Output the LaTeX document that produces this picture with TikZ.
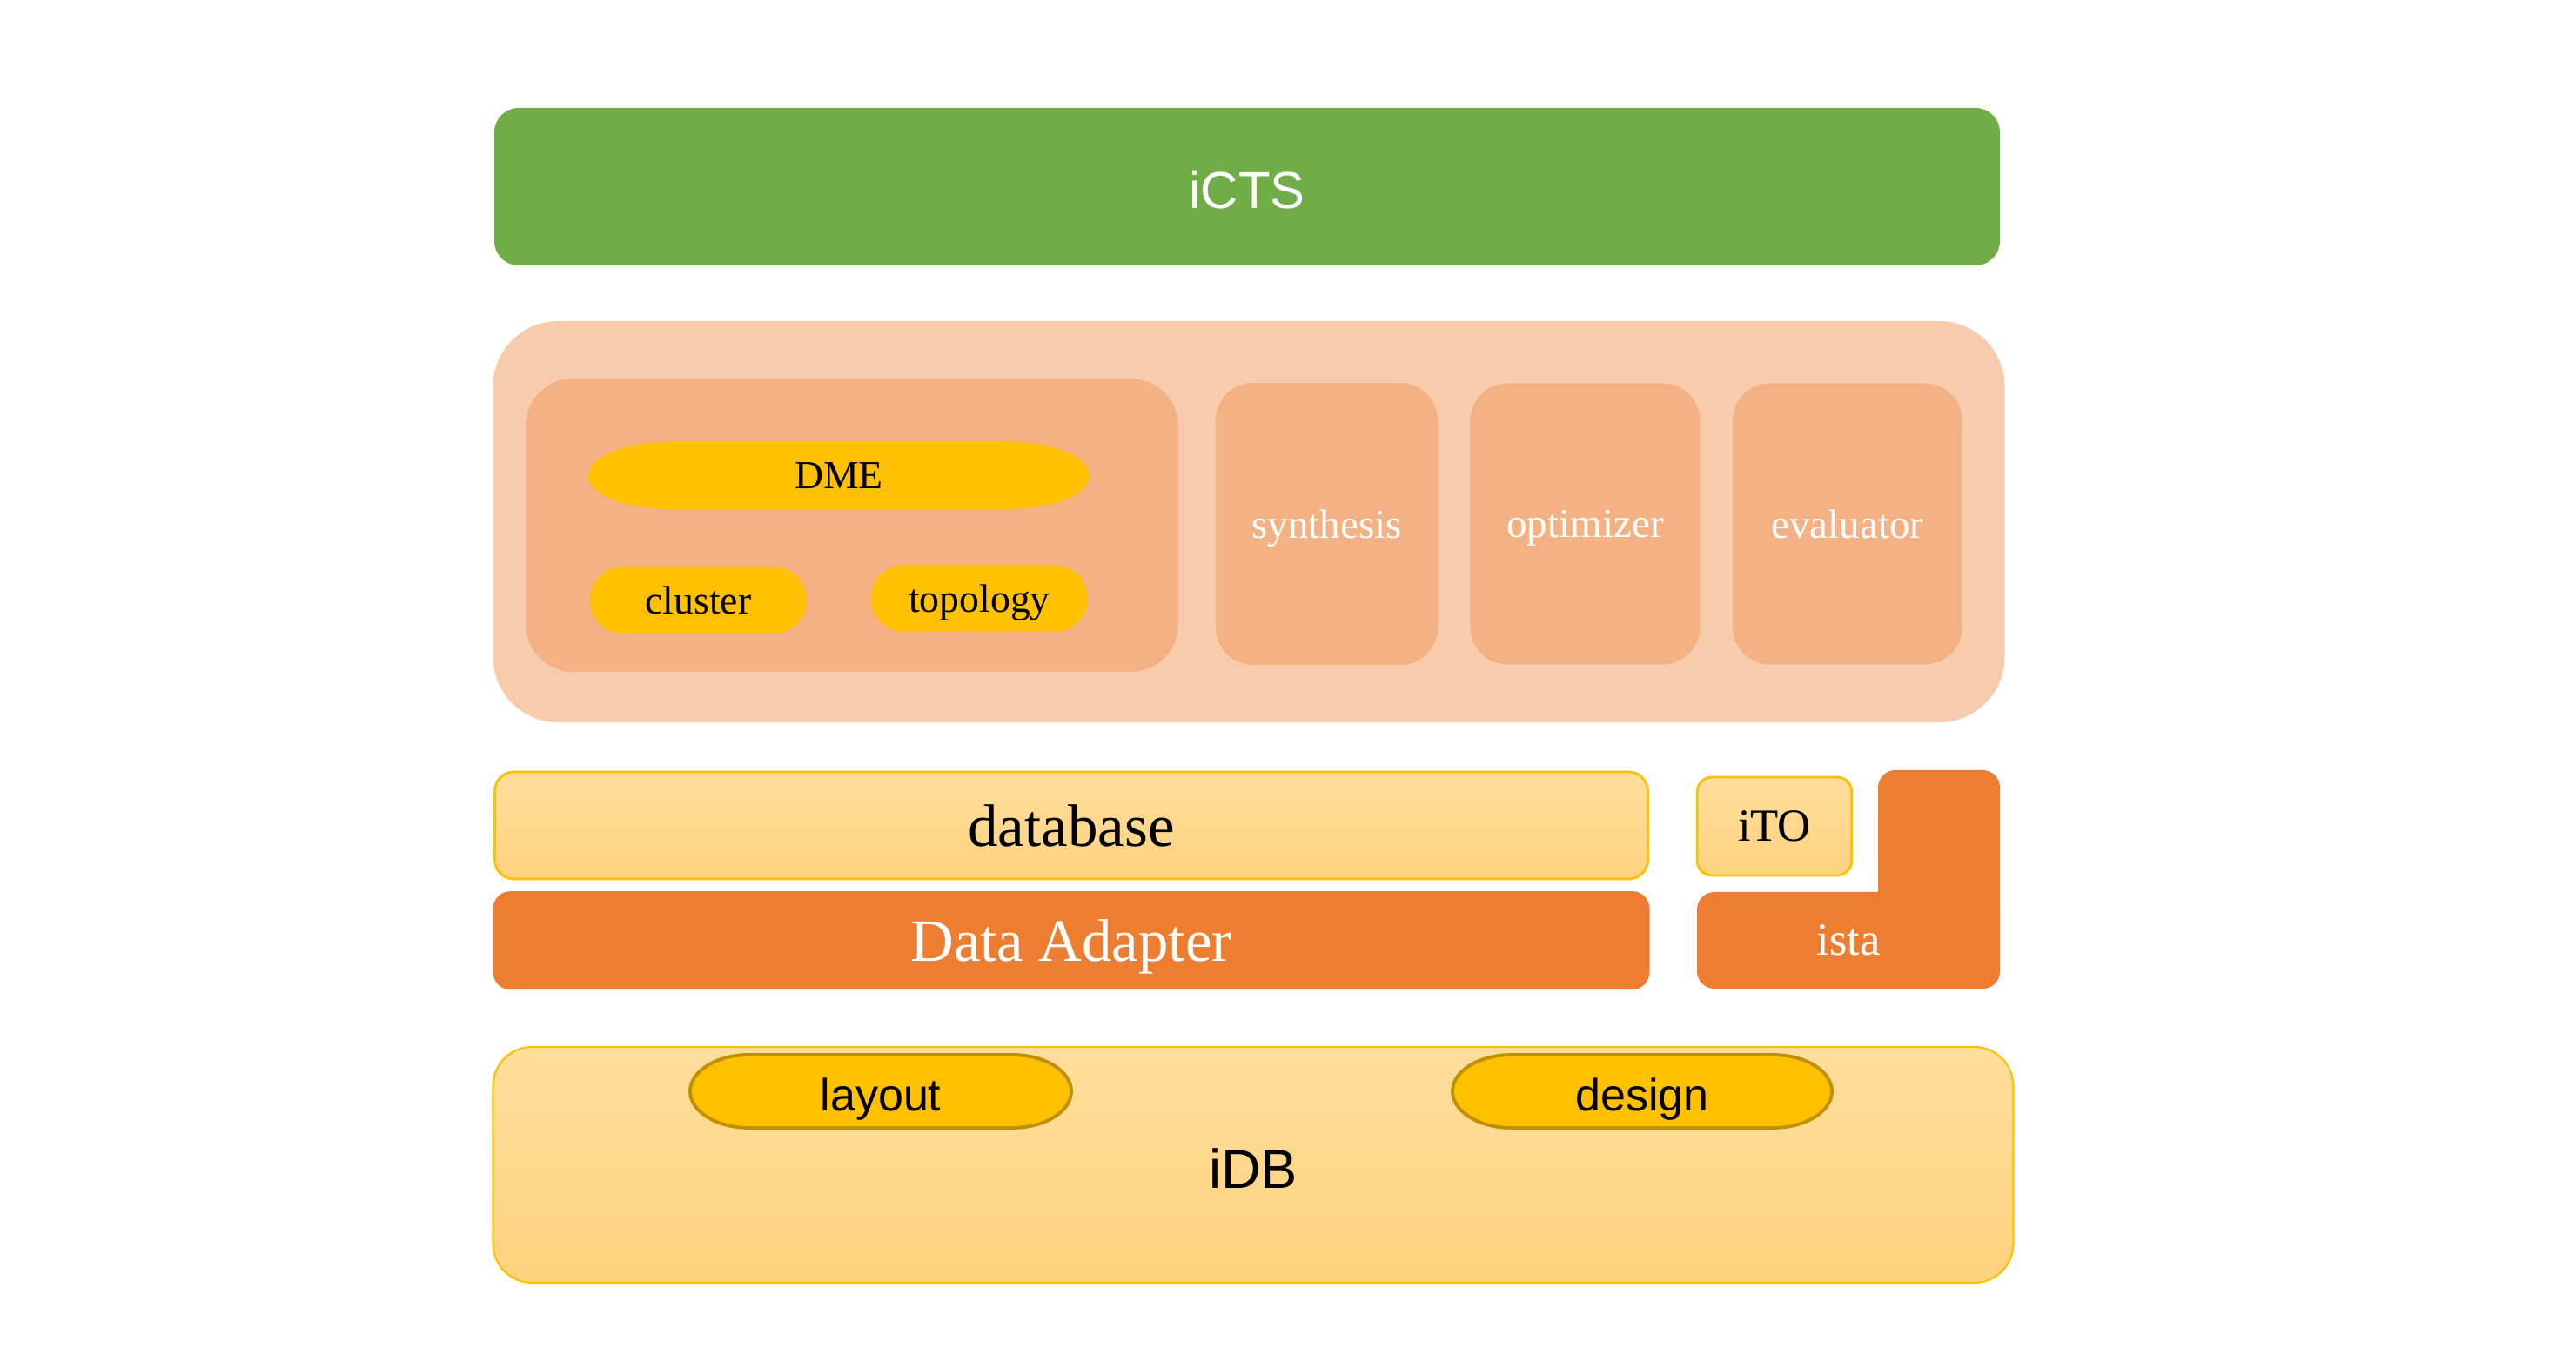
\documentclass[tikz,border=0pt]{standalone}
\usepackage{fontspec}
\setmainfont{Liberation Serif}
\setsansfont{Liberation Sans}
\usetikzlibrary{positioning}
\definecolor{ictsgreen}{HTML}{70AD47}
\definecolor{peach}{HTML}{F8CBAD}
\definecolor{salmon}{HTML}{F4B183}
\definecolor{gold}{HTML}{FFC000}
\definecolor{darkgold}{HTML}{BF9000}
\definecolor{adaptorange}{HTML}{ED7D31}
\definecolor{creamtop}{HTML}{FFDE9C}
\definecolor{creambottom}{HTML}{FED27E}
\tikzstyle{bar} = [rectangle, rounded corners=0.28cm, minimum width=17.30cm, minimum height=1.81cm, fill=ictsgreen, text=white, text depth=0pt, font=\sffamily\fontsize{17}{20}\selectfont]
\tikzstyle{group} = [rectangle, rounded corners=0.75cm, fill=peach]
\tikzstyle{module} = [rectangle, rounded corners=0.43cm, minimum width=2.64cm, minimum height=3.23cm, fill=salmon, text=white, text depth=0pt, font=\fontsize{13.4}{15}\selectfont]
\tikzstyle{algo} = [rectangle, rounded corners=0.385cm, minimum width=2.49cm, minimum height=0.77cm, fill=gold, text depth=0pt, font=\fontsize{13}{15}\selectfont]
\tikzstyle{capsule} = [fill=gold, draw=darkgold, line width=1.1pt]
\tikzstyle{store} = [rectangle, rounded corners=0.22cm, draw=gold, line width=0.8pt, top color=creamtop, bottom color=creambottom, text depth=0pt]
\tikzstyle{adapter} = [rectangle, rounded corners=0.2cm, fill=adaptorange, text=white, text depth=0pt]

\begin{document}
\begin{tikzpicture}

\fill[white] (0,0) rectangle (29.6,15.56);
\useasboundingbox (0,0) rectangle (29.6,15.56);

\node (icts) [bar, text height=0.51cm] at (14.33,13.415) {iCTS};

\node (cts) [group, minimum width=17.37cm, minimum height=4.61cm] at (14.35,9.565) {};
\node (dmebox) [rectangle, rounded corners=0.55cm, fill=salmon, minimum width=7.50cm, minimum height=3.37cm] at (9.79,9.525) {};
\fill[gold] (7.68,10.48) -- (11.60,10.48) arc[start angle=90, end angle=-90, x radius=0.92, y radius=0.385] -- (7.68,9.71) arc[start angle=270, end angle=90, x radius=0.92, y radius=0.385] -- cycle;
\node (dme) [text depth=0pt, font=\fontsize{13}{15}\selectfont] at (9.64,10.095) {DME};
\node (cluster) [algo] at (8.025,8.665) {cluster};
\node (topology) [algo] at (11.255,8.685) {topology};

\node (synthesis) [module, minimum width=2.55cm, minimum height=3.24cm] at (15.245,9.54) {synthesis};
\node (optimizer) [module, right=0.36cm of synthesis] {optimizer};
\node (evaluator) [module, right=0.36cm of optimizer] {evaluator};

\node (database) [store, minimum width=13.25cm, minimum height=1.23cm, font=\fontsize{19.6}{22}\selectfont] at (12.31,6.075) {database};
\node (adapter) [adapter, below=0.12cm of database, minimum width=13.29cm, minimum height=1.13cm, font=\fontsize{19.6}{22}\selectfont] {Data Adapter};

\node (ito) [store, rounded corners=0.17cm, minimum width=1.775cm, minimum height=1.13cm, font=\fontsize{15}{17}\selectfont] at (20.39,6.065) {iTO};
\fill[adaptorange, rounded corners=0.2cm] (21.58,4.20) rectangle (22.98,6.71);
\node (ista) [adapter, minimum width=3.48cm, minimum height=1.11cm, font=\fontsize{15}{17}\selectfont] at (21.24,4.755) {ista};

\node (idb) [store, rounded corners=0.45cm, line width=0.6pt, minimum width=17.47cm, minimum height=2.71cm, text height=0.53cm, font=\sffamily\fontsize{18}{20}\selectfont] at (14.40,2.175) {iDB};
\draw[capsule] (8.61,3.44) -- (11.63,3.44) arc[start angle=90, end angle=-90, x radius=0.68, y radius=0.42] -- (8.61,2.60) arc[start angle=270, end angle=90, x radius=0.68, y radius=0.42] -- cycle;
\node (layout) [text depth=0pt, font=\sffamily\fontsize{14.8}{16}\selectfont] at (10.12,2.98) {layout};
\draw[capsule] (17.37,3.44) -- (20.37,3.44) arc[start angle=90, end angle=-90, x radius=0.68, y radius=0.42] -- (17.37,2.60) arc[start angle=270, end angle=90, x radius=0.68, y radius=0.42] -- cycle;
\node (design) [text depth=0pt, font=\sffamily\fontsize{14.8}{16}\selectfont] at (18.87,2.98) {design};

\end{tikzpicture}
\end{document}
